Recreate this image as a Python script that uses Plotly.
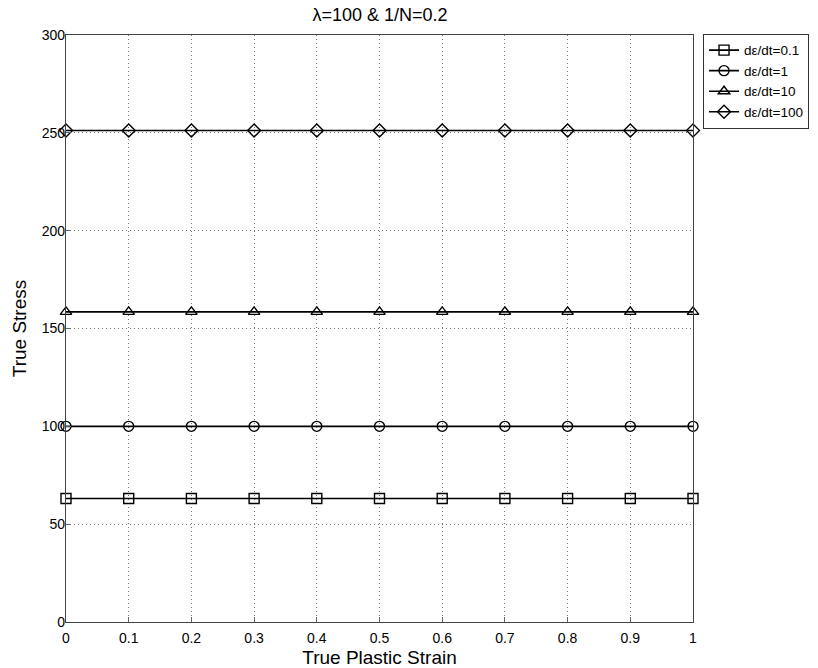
import plotly.graph_objects as go

strain = [0, 0.1, 0.2, 0.3, 0.4, 0.5, 0.6, 0.7, 0.8, 0.9, 1.0]
stress_01 = [63.1] * 11
stress_1 = [100.0] * 11
stress_10 = [158.5] * 11
stress_100 = [251.2] * 11
names = ["dε/dt=0.1", "dε/dt=1", "dε/dt=10", "dε/dt=100"]
symbols = ["square-open", "circle-open", "triangle-up-open", "diamond-open"]
series = [stress_01, stress_1, stress_10, stress_100]
xticks = [0, 0.1, 0.2, 0.3, 0.4, 0.5, 0.6, 0.7, 0.8, 0.9, 1]
xticklabels = ["0", "0.1", "0.2", "0.3", "0.4", "0.5", "0.6", "0.7", "0.8", "0.9", "1"]
yticks = [0, 50, 100, 150, 200, 250, 300]

fig = go.Figure()
for nm, sym, ys in zip(names, symbols, series):
    fig.add_trace(go.Scatter(
        x=strain, y=ys, name=nm, mode="lines+markers",
        line=dict(color="black", width=1.6),
        marker=dict(symbol=sym, size=10, color="black",
                    line=dict(color="black", width=1.4)),
        cliponaxis=False,
    ))

font = "Liberation Sans, Arial, sans-serif"
fig.update_layout(
    width=818, height=668,
    margin=dict(l=66, r=125, t=35, b=46, autoexpand=False),
    paper_bgcolor="white", plot_bgcolor="white",
    font=dict(family=font, color="black", size=13.5),
    title=dict(text="λ=100 & 1/N=0.2", x=0.4645, xanchor="center", y=0.9775, yanchor="middle",
               font=dict(size=18, family=font)),
    legend=dict(x=1.016, y=1.002, xanchor="left", yanchor="top",
                bordercolor="#333", borderwidth=1, bgcolor="white",
                font=dict(size=13.5, family=font), tracegroupgap=0,
                itemwidth=30),
    showlegend=True,
)
fig.update_xaxes(
    range=[0, 1], tickvals=xticks, ticktext=xticklabels,
    showline=True, linecolor="#444", linewidth=1.2, mirror=True,
    ticks="inside", ticklen=5, tickcolor="#666",
    showgrid=True, gridcolor="#777", griddash="1px,3px", gridwidth=1,
    zeroline=False, automargin=False,
    tickfont=dict(size=14), ticklabelstandoff=3,
    title=dict(text="True Plastic Strain", font=dict(size=19), standoff=8),
)
fig.update_yaxes(
    range=[0, 300], tickvals=yticks,
    showline=True, linecolor="#444", linewidth=1.2, mirror=True,
    ticks="inside", ticklen=5, tickcolor="#666",
    showgrid=True, gridcolor="#777", griddash="1px,3px", gridwidth=1,
    zeroline=False, automargin=False,
    tickfont=dict(size=14), ticklabelstandoff=-3,
    title=dict(text="True Stress", font=dict(size=19), standoff=10),
)
fig.write_html(
    "out.html",
    config={"displayModeBar": False},
    post_script="document.body.style.margin='0';document.documentElement.style.overflow='hidden';",
)
